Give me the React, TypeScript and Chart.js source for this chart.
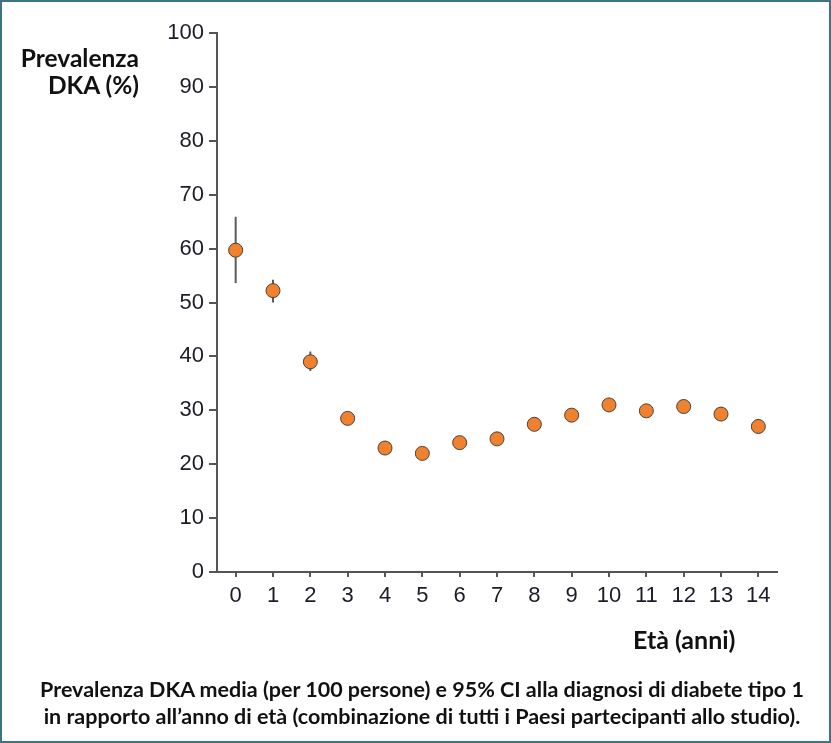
import { useEffect, useRef } from "react";
import { Chart, registerables } from "chart.js";

Chart.register(...registerables);

const ages = ["0", "1", "2", "3", "4", "5", "6", "7", "8", "9", "10", "11", "12", "13", "14"];
const prevalence = [59.7, 52.2, 39.0, 28.5, 23.0, 22.0, 24.0, 24.7, 27.4, 29.1, 31.0, 29.9, 30.7, 29.3, 27.0];
const ciLow = [53.6, 50.0, 37.3, 27.3, 22.0, 21.0, 23.0, 23.7, 26.4, 28.1, 30.0, 28.9, 29.7, 28.2, 25.7];
const ciHigh = [65.9, 54.2, 40.9, 29.7, 24.0, 23.0, 25.0, 25.7, 28.4, 30.1, 32.0, 30.9, 31.7, 30.4, 28.4];
const yTicks = [0, 10, 20, 30, 40, 50, 60, 70, 80, 90, 100];

// error bars drawn before the points so the markers sit on top
const errorBars = {
  id: "errorBars",
  beforeDatasetsDraw(chart: Chart) {
    const { ctx, scales } = chart;
    const x = scales.x;
    const y = scales.y;
    ctx.save();
    ctx.strokeStyle = "#5a5a5a";
    ctx.lineWidth = 2;
    ages.forEach((_, i) => {
      const px = x.getPixelForValue(i);
      ctx.beginPath();
      ctx.moveTo(px, y.getPixelForValue(ciLow[i]));
      ctx.lineTo(px, y.getPixelForValue(ciHigh[i]));
      ctx.stroke();
    });
    ctx.restore();
  },
};

const tickFont = { family: "'Liberation Sans', Arial, sans-serif", size: 22 };

const App = () => {
  const canvasRef = useRef<HTMLCanvasElement>(null);

  useEffect(() => {
    document.body.style.margin = "0";
    if (!canvasRef.current) return;
    const chart = new Chart(canvasRef.current, {
      type: "line",
      data: {
        labels: ages,
        datasets: [
          {
            data: prevalence,
            showLine: false,
            pointRadius: 7,
            pointHoverRadius: 7,
            pointBackgroundColor: "#f0822f",
            pointBorderColor: "#4a3f38",
            pointBorderWidth: 1,
          },
        ],
      },
      options: {
        responsive: false,
        animation: false,
        events: [],
        layout: { padding: { left: 157, right: 54, top: 33, bottom: 111 } },
        plugins: { legend: { display: false }, tooltip: { enabled: false } },
        scales: {
          x: {
            type: "category",
            offset: true,
            afterFit: (s) => {
              s.height = 60;
            },
            grid: { offset: false, drawOnChartArea: false, drawTicks: true, tickLength: 5, color: "#555", lineWidth: 2 },
            border: { display: true, color: "#555", width: 2 },
            ticks: { color: "#1c1c28", font: tickFont, padding: 6, maxRotation: 0 },
          },
          y: {
            min: 0,
            max: 100,
            afterFit: (s) => {
              s.width = 60;
            },
            afterBuildTicks: (s) => {
              s.ticks = yTicks.map((v) => ({ value: v }));
            },
            grid: { drawOnChartArea: false, drawTicks: true, tickLength: 8, color: "#555", lineWidth: 2 },
            border: { display: true, color: "#555", width: 2 },
            ticks: { color: "#1c1c28", font: tickFont, padding: 5 },
          },
        },
      },
      plugins: [errorBars],
    });
    return () => chart.destroy();
  }, []);

  const bold = { fontFamily: "Lato, 'Open Sans', sans-serif", fontWeight: 700, color: "#111", position: "absolute" as const };

  return (
    <div
      style={{
        position: "relative",
        width: 831,
        height: 743,
        boxSizing: "border-box",
        border: "2px solid #3e7480",
        background: "#fff",
        overflow: "hidden",
      }}
    >
      <canvas ref={canvasRef} width={831} height={743} style={{ position: "absolute", left: -2, top: -2 }} />
      <div style={{ ...bold, right: 831 - 141, top: 42, fontSize: 24.5, lineHeight: "27px", textAlign: "right", whiteSpace: "nowrap" }}>
        Prevalenza
        <br />
        DKA (%)
      </div>
      <div style={{ ...bold, left: 631, top: 622, fontSize: 25, whiteSpace: "nowrap" }}>Età (anni)</div>
      <div
        style={{
          ...bold,
          left: 0,
          width: 840,
          top: 674,
          fontSize: 21.5,
          lineHeight: "27px",
          textAlign: "center",
          whiteSpace: "nowrap",
        }}
      >
        Prevalenza DKA media (per 100 persone) e 95% CI alla diagnosi di diabete tipo 1
        <br />
        in rapporto all’anno di età (combinazione di tutti i Paesi partecipanti allo studio).
      </div>
    </div>
  );
};

export default App;
